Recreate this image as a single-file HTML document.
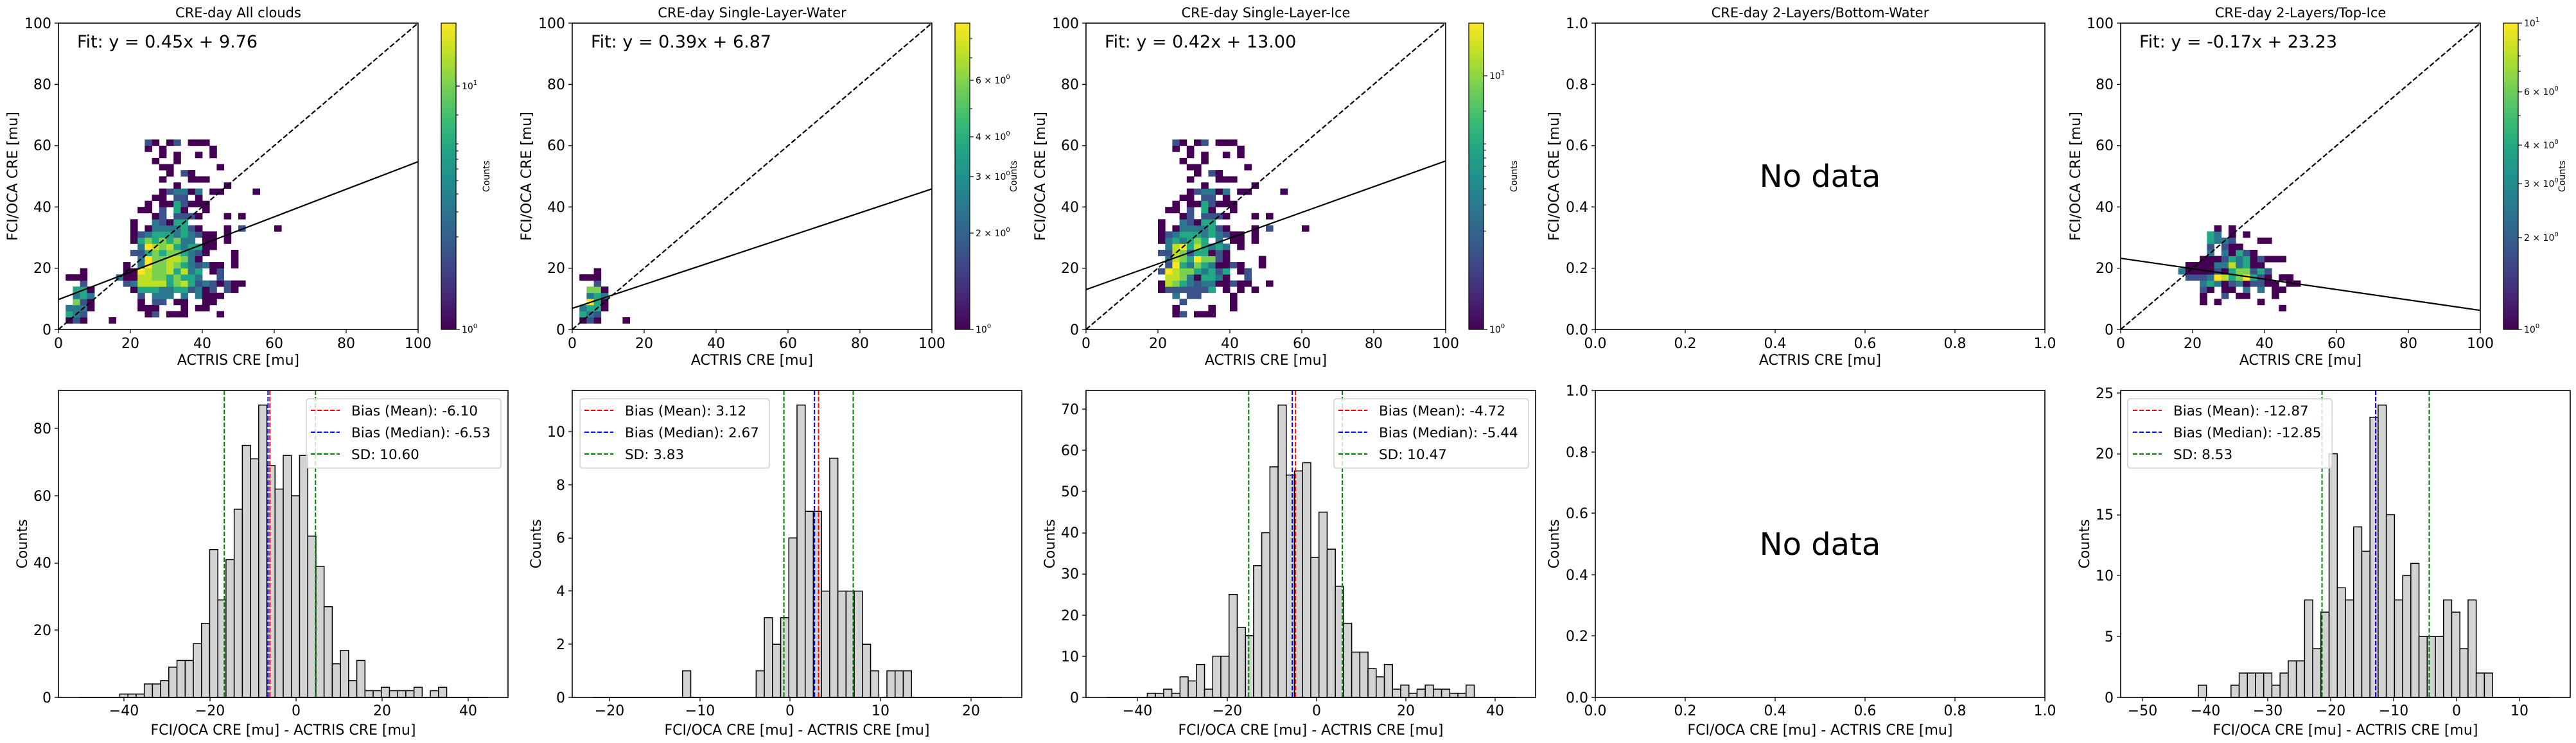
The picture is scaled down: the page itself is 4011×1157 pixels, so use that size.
<!DOCTYPE html>
<html><head><meta charset="utf-8"><style>
html,body{margin:0;padding:0;background:#fff;}
svg{display:block;font-family:"DejaVu Sans","Liberation Sans",sans-serif;}
.t{font-size:22px;fill:#000;}
.ti{font-size:21px;fill:#000;}
.cb{font-size:14px;fill:#000;}
.lg{font-size:21.5px;fill:#000;}
</style></head><body>
<svg id="s" width="4011" height="1157" viewBox="0 0 4011 1157" xmlns="http://www.w3.org/2000/svg">
<defs>
<linearGradient id="vir" x1="0" y1="1" x2="0" y2="0">
<stop offset="0" stop-color="#440154"/><stop offset="0.1" stop-color="#482475"/><stop offset="0.2" stop-color="#414487"/><stop offset="0.3" stop-color="#355f8d"/><stop offset="0.4" stop-color="#2a788e"/><stop offset="0.5" stop-color="#21918c"/><stop offset="0.6" stop-color="#22a884"/><stop offset="0.7" stop-color="#44bf70"/><stop offset="0.8" stop-color="#7ad151"/><stop offset="0.9" stop-color="#bddf26"/><stop offset="1" stop-color="#fde725"/>
</linearGradient>
</defs>
<rect width="4011" height="1157" fill="#fff"/>
<g id="shapes"></g>

<g class="ti" text-anchor="middle">
<text x="371" y="27">CRE-day All clouds</text>
<text x="1171" y="27">CRE-day Single-Layer-Water</text>
<text x="1971" y="27">CRE-day Single-Layer-Ice</text>
<text x="2834" y="27">CRE-day 2-Layers/Bottom-Water</text>
<text x="3582" y="27">CRE-day 2-Layers/Top-Ice</text>
</g>
<g style="font-size:27px">
<text x="120" y="74">Fit: y = 0.45x + 9.76</text>
<text x="920" y="74">Fit: y = 0.39x + 6.87</text>
<text x="1720" y="74">Fit: y = 0.42x + 13.00</text>
<text x="3331" y="74">Fit: y = -0.17x + 23.23</text>
</g>
<g style="font-size:48px" text-anchor="middle">
<text x="2834" y="291">No data</text>
<text x="2834" y="864">No data</text>
</g>

<g class="t" text-anchor="middle">
<text x="91" y="542">0</text><text x="203" y="542">20</text><text x="315" y="542">40</text><text x="427" y="542">60</text><text x="539" y="542">80</text><text x="651" y="542">100</text>
<text x="891" y="542">0</text><text x="1003" y="542">20</text><text x="1115" y="542">40</text><text x="1227" y="542">60</text><text x="1339" y="542">80</text><text x="1451" y="542">100</text>
<text x="1691" y="542">0</text><text x="1803" y="542">20</text><text x="1915" y="542">40</text><text x="2027" y="542">60</text><text x="2139" y="542">80</text><text x="2251" y="542">100</text>
<text x="3302" y="542">0</text><text x="3414" y="542">20</text><text x="3526" y="542">40</text><text x="3638" y="542">60</text><text x="3750" y="542">80</text><text x="3862" y="542">100</text>
<text x="2484" y="542">0.0</text><text x="2624" y="542">0.2</text><text x="2764" y="542">0.4</text><text x="2904" y="542">0.6</text><text x="3044" y="542">0.8</text><text x="3184" y="542">1.0</text>
<text x="371" y="568">ACTRIS CRE [mu]</text>
<text x="1171" y="568">ACTRIS CRE [mu]</text>
<text x="1971" y="568">ACTRIS CRE [mu]</text>
<text x="2834" y="568">ACTRIS CRE [mu]</text>
<text x="3582" y="568">ACTRIS CRE [mu]</text>
</g>
<g class="t" text-anchor="end">
<text x="80" y="521">0</text><text x="80" y="425">20</text><text x="80" y="330">40</text><text x="80" y="234">60</text><text x="80" y="139">80</text><text x="80" y="44">100</text>
<text x="880" y="521">0</text><text x="880" y="425">20</text><text x="880" y="330">40</text><text x="880" y="234">60</text><text x="880" y="139">80</text><text x="880" y="44">100</text>
<text x="1680" y="521">0</text><text x="1680" y="425">20</text><text x="1680" y="330">40</text><text x="1680" y="234">60</text><text x="1680" y="139">80</text><text x="1680" y="44">100</text>
<text x="3291" y="521">0</text><text x="3291" y="425">20</text><text x="3291" y="330">40</text><text x="3291" y="234">60</text><text x="3291" y="139">80</text><text x="3291" y="44">100</text>
<text x="2473" y="521">0.0</text><text x="2473" y="425">0.2</text><text x="2473" y="330">0.4</text><text x="2473" y="234">0.6</text><text x="2473" y="139">0.8</text><text x="2473" y="44">1.0</text>
</g>
<g class="t" text-anchor="middle">
<text transform="translate(27,274.5) rotate(-90)">FCI/OCA CRE [mu]</text>
<text transform="translate(827,274.5) rotate(-90)">FCI/OCA CRE [mu]</text>
<text transform="translate(1627,274.5) rotate(-90)">FCI/OCA CRE [mu]</text>
<text transform="translate(2427,274.5) rotate(-90)">FCI/OCA CRE [mu]</text>
<text transform="translate(3239,274.5) rotate(-90)">FCI/OCA CRE [mu]</text>
<text transform="translate(42,847) rotate(-90)">Counts</text>
<text transform="translate(842,847) rotate(-90)">Counts</text>
<text transform="translate(1642,847) rotate(-90)">Counts</text>
<text transform="translate(2427,847) rotate(-90)">Counts</text>
<text transform="translate(3253,847) rotate(-90)">Counts</text>
</g>

<g class="cb">
<text x="719" y="518">10<tspan dy="-7" font-size="10">0</tspan></text>
<text x="719" y="139">10<tspan dy="-7" font-size="10">1</tspan></text>
<text x="1519" y="518">10<tspan dy="-7" font-size="10">0</tspan></text>
<text x="1519" y="368">2 × 10<tspan dy="-7" font-size="10">0</tspan></text>
<text x="1519" y="280">3 × 10<tspan dy="-7" font-size="10">0</tspan></text>
<text x="1519" y="218">4 × 10<tspan dy="-7" font-size="10">0</tspan></text>
<text x="1519" y="130">6 × 10<tspan dy="-7" font-size="10">0</tspan></text>
<text x="2319" y="518">10<tspan dy="-7" font-size="10">0</tspan></text>
<text x="2319" y="123">10<tspan dy="-7" font-size="10">1</tspan></text>
<text x="3930" y="518">10<tspan dy="-7" font-size="10">0</tspan></text>
<text x="3930" y="375">2 × 10<tspan dy="-7" font-size="10">0</tspan></text>
<text x="3930" y="291">3 × 10<tspan dy="-7" font-size="10">0</tspan></text>
<text x="3930" y="231">4 × 10<tspan dy="-7" font-size="10">0</tspan></text>
<text x="3930" y="148">6 × 10<tspan dy="-7" font-size="10">0</tspan></text>
<text x="3930" y="41">10<tspan dy="-7" font-size="10">1</tspan></text>
</g>
<g class="cb" text-anchor="middle">
<text transform="translate(762,274.5) rotate(-90)">Counts</text>
<text transform="translate(1583,274.5) rotate(-90)">Counts</text>
<text transform="translate(2362,274.5) rotate(-90)">Counts</text>
<text transform="translate(3994,274.5) rotate(-90)">Counts</text>
</g>

<g class="t" text-anchor="middle">
<text x="193" y="1114">−40</text><text x="327" y="1114">−20</text><text x="461" y="1114">0</text><text x="595" y="1114">20</text><text x="729" y="1114">40</text>
<text x="949" y="1114">−20</text><text x="1090" y="1114">−10</text><text x="1230" y="1114">0</text><text x="1371" y="1114">10</text><text x="1512" y="1114">20</text>
<text x="1771" y="1114">−40</text><text x="1911" y="1114">−20</text><text x="2050" y="1114">0</text><text x="2189" y="1114">20</text><text x="2328" y="1114">40</text>
<text x="2484" y="1114">0.0</text><text x="2624" y="1114">0.2</text><text x="2764" y="1114">0.4</text><text x="2904" y="1114">0.6</text><text x="3044" y="1114">0.8</text><text x="3184" y="1114">1.0</text>
<text x="3336" y="1114">−50</text><text x="3434" y="1114">−40</text><text x="3531" y="1114">−30</text><text x="3629" y="1114">−20</text><text x="3727" y="1114">−10</text><text x="3825" y="1114">0</text><text x="3923" y="1114">10</text>
<text x="441" y="1144">FCI/OCA CRE [mu] - ACTRIS CRE [mu]</text>
<text x="1241" y="1144">FCI/OCA CRE [mu] - ACTRIS CRE [mu]</text>
<text x="2041" y="1144">FCI/OCA CRE [mu] - ACTRIS CRE [mu]</text>
<text x="2834" y="1144">FCI/OCA CRE [mu] - ACTRIS CRE [mu]</text>
<text x="3652" y="1144">FCI/OCA CRE [mu] - ACTRIS CRE [mu]</text>
</g>
<g class="t" text-anchor="end">
<text x="80" y="1094">0</text><text x="80" y="989">20</text><text x="80" y="884">40</text><text x="80" y="780">60</text><text x="80" y="675">80</text>
<text x="880" y="1094">0</text><text x="880" y="1011">2</text><text x="880" y="928">4</text><text x="880" y="845">6</text><text x="880" y="763">8</text><text x="880" y="680">10</text>
<text x="1680" y="1094">0</text><text x="1680" y="1030">10</text><text x="1680" y="966">20</text><text x="1680" y="901">30</text><text x="1680" y="837">40</text><text x="1680" y="773">50</text><text x="1680" y="709">60</text><text x="1680" y="645">70</text>
<text x="2473" y="1094">0.0</text><text x="2473" y="998">0.2</text><text x="2473" y="903">0.4</text><text x="2473" y="807">0.6</text><text x="2473" y="712">0.8</text><text x="2473" y="616">1.0</text>
<text x="3291" y="1094">0</text><text x="3291" y="999">5</text><text x="3291" y="904">10</text><text x="3291" y="809">15</text><text x="3291" y="714">20</text><text x="3291" y="620">25</text>
</g>
<g id="legends"></g>
<g class="lg">
<text x="547" y="647">Bias (Mean): -6.10</text><text x="547" y="681">Bias (Median): -6.53</text><text x="547" y="715">SD: 10.60</text>
<text x="973" y="647">Bias (Mean): 3.12</text><text x="973" y="681">Bias (Median): 2.67</text><text x="973" y="715">SD: 3.83</text>
<text x="2147" y="647">Bias (Mean): -4.72</text><text x="2147" y="681">Bias (Median): -5.44</text><text x="2147" y="715">SD: 10.47</text>
<text x="3384" y="647">Bias (Mean): -12.87</text><text x="3384" y="681">Bias (Median): -12.85</text><text x="3384" y="715">SD: 8.53</text>
</g>
</svg>
<script>
(function(){
var NS="http://www.w3.org/2000/svg";
var G=document.getElementById("shapes"), L=document.getElementById("legends");
function el(p,t,a){var e=document.createElementNS(NS,t);for(var k in a)e.setAttribute(k,a[k]);p.appendChild(e);return e;}
var C={a:"#440154",b:"#3b528b",c:"#2a788e",d:"#22a884",e:"#7ad151",f:"#bddf26",g:"#fde725"};
var TOP=36,BOT=513,H=BOT-TOP,W=560;
function heat(ax,rows){
  var sx=W/50,sy=H/50;
  for(var j in rows){rows[j].split(",").forEach(function(s){
    var c=parseInt(s),l=s.replace(/[0-9]/g,"");
    el(G,"rect",{x:ax+c*sx,y:BOT-(+j+1)*sy,width:sx+0.4,height:sy+0.4,fill:C[l]});
  });}
}
function scatterAxes(ax,w,xt,yt,cb,m,b){
  if(m!==null){
    el(G,"line",{x1:ax,y1:BOT,x2:ax+w,y2:TOP,stroke:"#000","stroke-width":2.2,"stroke-dasharray":"8,3.5"});
    el(G,"line",{x1:ax,y1:BOT-b*H/100,x2:ax+w,y2:BOT-(m*100+b)*H/100,stroke:"#000","stroke-width":2.2});
  }
  el(G,"rect",{x:ax,y:TOP,width:w,height:H,fill:"none",stroke:"#000","stroke-width":1.6});
  for(var i=0;i<6;i++){var x=ax+i*w/5,y=BOT-i*H/5;
    el(G,"line",{x1:x,y1:BOT,x2:x,y2:BOT+6,stroke:"#000","stroke-width":1.3});
    el(G,"line",{x1:ax,y1:y,x2:ax-6,y2:y,stroke:"#000","stroke-width":1.3});}
  if(cb){el(G,"rect",{x:cb.x,y:TOP,width:23,height:H,fill:"url(#vir)",stroke:"#000","stroke-width":1.2});
    cb.t.forEach(function(t){el(G,"line",{x1:cb.x+23,y1:t,x2:cb.x+29,y2:t,stroke:"#000","stroke-width":1.2});});
    (cb.m||[]).forEach(function(t){el(G,"line",{x1:cb.x+23,y1:t,x2:cb.x+27,y2:t,stroke:"#000","stroke-width":1});});}
}
var P1={30:"12b,13a,15a,16b,18a,19a,20a",29:"12a,14a,21a",28:"14a,16a,19a,21a",27:"13a,16a",26:"14a,15a,22a",25:"15a,17b,18a",24:"14a,18a,19a,20a",23:"16a,23a",
22:"14a,15b,16c,17c,18a,19c,21a,22a,27a",21:"13a,14a,16b,17b,19a",20:"12a,14a,15a,16d,17b,18a,19a,20a",19:"11a,12a,14b,16d,17a,20a",18:"13a,14b,16b,17b,18b,19a,23a,25a",
17:"10a,13c,14b,15a,16d,17d",16:"10a,12a,13c,14c,15c,16c,17d,18b,19a,23a,25b,30a",15:"10a,11b,12c,13d,14d,15d,16c,17d,18c,19b,20a,21a,23a",
14:"10a,11d,12e,13d,14e,15d,16e,17c,18c,20a,21a,23a",13:"11c,12g,13f,14e,15f,16d,17c,18d,19d,20a,21a",12:"10b,11b,12d,13e,14d,15e,16e,17d,18c,19b,20a,24a",
11:"11c,12g,13e,14e,15f,16f,17e,18c,19a,24a",10:"9a,11c,12g,13e,14e,15f,16e,17d,18c,19b,20c,21a,22a,24a",9:"3a,9a,10a,11g,12f,13e,14e,15f,16d,17f,18c,19d,21a,22b",
8:"1a,2a,3a,8c,9a,10a,11f,12f,13e,14e,15d,16e,17d,18d,19c,22b",7:"3b,9b,10c,11f,12f,13f,14f,15d,16e,17f,18d,19b,20c,21b,22a,23b,24a,25a",
6:"2d,3d,4a,10a,11d,12d,13d,14c,15c,16d,17d,18b,19c,20a,21b,23b,24a",5:"2c,3d,4c,11b,13c,14c,15c,17c,19c,20a,21a,22a",4:"2e,3b,4a,11a,13b,14b,16a,17a,20a,21a",
3:"1c,2c,3c,4a,11a,12a,13a,17a,19a,20a",2:"1d,2c,3b,12a,13b,15a,16a,17a,22a",1:"1a,2b,3a,7a"};
var P2={9:"3a",8:"1a,2a,3a",7:"3b",6:"2e,3e,4a",5:"2c,3d,4c",4:"2g,3d,4a",3:"1c,2d,3d,4a",2:"1d,2c,3b",1:"1a,2b,3a,7a"};
var P3={};for(var k=17;k<=30;k++)P3[k]=P1[k];
Object.assign(P3,{16:"10a,12a,13c,14c,15c,16c,17d,18b,19a,23a,25b,30a",15:"10a,11b,12c,13d,14d,15d,16c,17d,18c,19b,20a,21a,23a",
14:"10a,11c,12d,13c,14d,15e,16d,18c,20a,21a,23a",13:"11c,12f,13g,14d,15f,16d,17c,18d,19c,21a",12:"10b,11b,12f,13e,14b,15d,16d,17a,18b,19a",
11:"11c,12f,13e,14d,15g,16e,17e,18b,19a,24a",10:"11b,12g,13d,14c,15e,16d,17c,18a,19a,20b,21a,24a",9:"10b,11g,12f,13e,14e,15d,16c,17d,18b,19d,21a,22b",
8:"11f,12f,13e,14c,15a,16d,17d,18c,19a,22b",7:"10a,11f,12e,13d,14c,15b,16c,17c,18a,19a,20b,21a,22a,25a",6:"10a,11b,12b,13b,14b,15b,16b,17d,19a,21a,23a",
5:"12c,14b,15b,20a",4:"13b,20a",3:"12a,17a,20a",2:"12a,13b,15a,16a,17a"});
var P5={16:"13a,15a",15:"12d,13c,15a,17a",14:"12d,13c,14c,15b,19a,20a",13:"12b,14b,15a,16a",12:"12c,14c,15a,16d,17b,18a",
11:"11a,12a,13a,14b,15d,16c,17d,18a,19b,20a,21a,22a",10:"9a,10a,11a,12a,13c,14c,15f,16c,17d,18a,19a",
9:"8c,9a,10a,11a,12a,13b,14a,15d,16e,17e,18b,19d,20b",8:"9b,10b,11b,12c,13g,14f,15d,16e,17g,18d,19b,20a,22a,23a",
7:"11c,12d,13c,14a,15b,16c,17a,18b,19b,20a,21a,23a,24a",6:"11b,12a,14a,15a,17c,19c,21a,22a",5:"11a,14b,16a,17a,21a",4:"11a,13a,19a",3:"22a"};
heat(91,P1);heat(891,P2);heat(1691,P3);heat(3302,P5);
scatterAxes(91,W,0,0,{x:687,t:[513,134],m:[369,330,302,281,263,248,235,224,179]},0.45,9.76);
scatterAxes(891,W,0,0,{x:1487,t:[513,363,275,213,125],m:[169,90,60]},0.39,6.87);
scatterAxes(1691,W,0,0,{x:2287,t:[513,118],m:[360,319,294,275,259,246,234,224,173]},0.42,13.0);
scatterAxes(3302,W,0,0,{x:3898,t:[513,370,286,226,143,36],m:[180,111,87,62]},-0.17,23.23);
scatterAxes(2484,700,0,0,null,null,null);

var BT=608,BB=1086,BH=BB-BT,BW=700;
function hist(ax,a,b,counts,start,mean,med,sd){
  var r=b-a,xmin=a-0.05*r,xmax=b+0.05*r,mx=Math.max.apply(null,counts),ymax=mx*1.05;
  var X=function(v){return ax+(v-xmin)/(xmax-xmin)*BW;},Y=function(v){return BB-v/ymax*BH;};
  var bw=r/50;
  el(G,"line",{x1:X(a),y1:BB,x2:X(b),y2:BB,stroke:"#000","stroke-width":1.5});
  counts.forEach(function(c,i){if(c>0){var x0=X(a+(start+i)*bw),x1=X(a+(start+i+1)*bw);
    el(G,"rect",{x:x0,y:Y(c),width:x1-x0,height:BB-Y(c),fill:"#d3d3d3",stroke:"#000","stroke-width":1.5});}});
  [[mean,"#ff0000"],[med,"#0000ff"],[mean-sd,"#008000"],[mean+sd,"#008000"]].forEach(function(p){
    el(G,"line",{x1:X(p[0]),y1:BT,x2:X(p[0]),y2:BB,stroke:p[1],"stroke-width":2,"stroke-dasharray":"7,3"});});
  el(G,"rect",{x:ax,y:BT,width:BW,height:BH,fill:"none",stroke:"#000","stroke-width":1.6});
}
function ticksB(ax,xs,ys){xs.forEach(function(x){el(G,"line",{x1:x,y1:BB,x2:x,y2:BB+6,stroke:"#000","stroke-width":1.3});});
  ys.forEach(function(y){el(G,"line",{x1:ax,y1:y,x2:ax-6,y2:y,stroke:"#000","stroke-width":1.3});});}
hist(91,-50.5,44.5,[1,1,1,4,4,5,9,11,11,16,22,44,29,41,56,75,71,87,69,62,72,60,72,48,39,27,10,14,5,11,2,2,3,2,2,2,3,0,2,3],5,-6.10,-6.53,10.60);
ticksB(91,[193,327,461,595,729],[1086,981,877,772,667]);
hist(891,-21.85,23.33,[0,0,0,0,0,0,0,0,0,0,0,1,0,0,0,0,0,0,0,0,1,3,2,3,6,11,7,7,4,9,4,4,4,2,1,0,1,1,1],0,3.12,2.67,3.83);
ticksB(891,[949,1090,1230,1371,1512],[1086,1003,920,838,755,672]);
hist(1691,-47.0,44.4,[1,1,2,1,5,4,8,2,10,10,25,17,15,32,40,56,71,54,55,57,34,45,36,27,18,11,11,7,5,8,2,3,1,2,3,2,2,1,1,3],5,-4.72,-5.44,10.47);
ticksB(1691,[1771,1911,2050,2189,2328],[1086,1022,958,894,830,765,701,637]);
hist(3302,-50.2,14.85,[1,0,0,0,1,2,2,2,2,1,2,3,3,8,4,7,20,9,8,14,12,23,24,15,8,10,11,5,5,5,8,7,4,8,2,2],7,-12.87,-12.85,8.53);
ticksB(3302,[3336,3434,3531,3629,3727,3825,3923],[1086,991,896,802,707,612]);
el(G,"rect",{x:2484,y:BT,width:700,height:BH,fill:"none",stroke:"#000","stroke-width":1.6});
ticksB(2484,[2484,2624,2764,2904,3044,3184],[1086,990,895,799,704,608]);

function legend(x0,x1,hx){
  el(L,"rect",{x:x0,y:621,width:x1-x0,height:108,rx:4,fill:"#fff","fill-opacity":0.8,stroke:"#d0d0d0","stroke-width":1.5});
  [[639,"#ff0000"],[673,"#0000ff"],[707,"#008000"]].forEach(function(p){
    el(L,"line",{x1:hx,y1:p[0],x2:hx+45,y2:p[0],stroke:p[1],"stroke-width":2,"stroke-dasharray":"7,3"});});
}
legend(477,780,484);legend(903,1198,910);legend(2077,2380,2084);legend(3313,3631,3321);
})();
</script>
</body></html>
